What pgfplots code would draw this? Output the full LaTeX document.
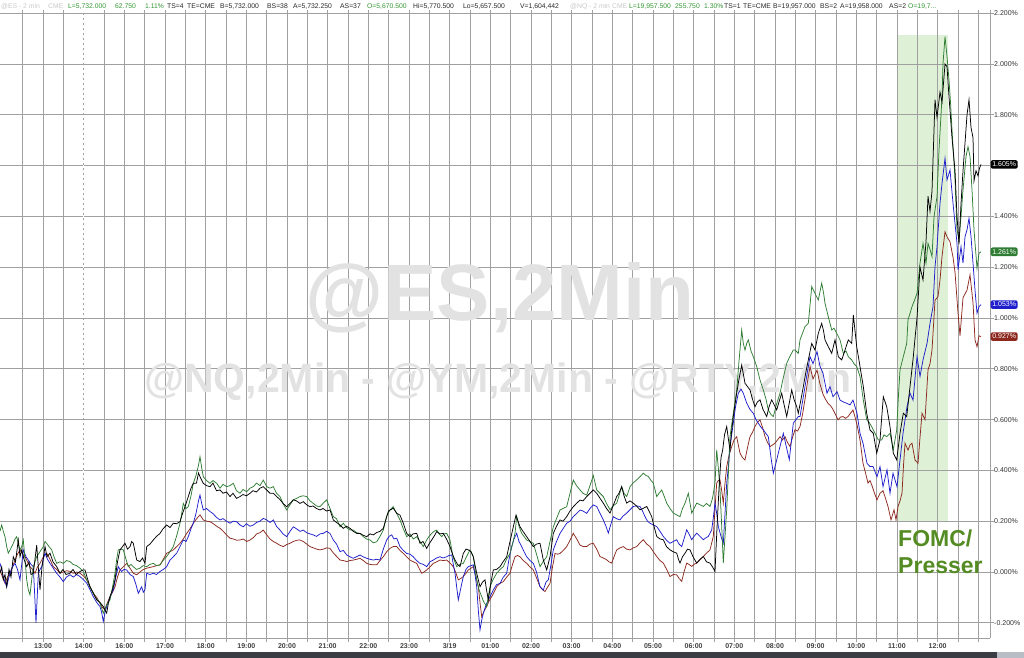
\documentclass[border=0pt]{standalone}
\usepackage{pgfplots}
\pgfplotsset{compat=1.18}
\usepackage{fontspec}
\setmainfont{Liberation Sans}
\definecolor{gridc}{RGB}{160,160,160}
\definecolor{sgreen}{RGB}{46,125,50}
\definecolor{sblue}{RGB}{30,30,205}
\definecolor{sred}{RGB}{140,40,30}
\definecolor{hgreen}{RGB}{50,150,50}
\definecolor{hgray}{RGB}{200,200,200}
\definecolor{shade}{RGB}{222,240,214}
\definecolor{fomc}{RGB}{84,139,34}
\definecolor{wm}{RGB}{226,226,226}
\definecolor{barc}{RGB}{58,62,68}
\definecolor{barl}{RGB}{185,190,198}
\begin{document}
\begin{tikzpicture}[font=\fontsize{7}{8}\selectfont]
\begin{axis}[
 set layers,
 scale only axis, width=990pt, height=628pt,
 xmin=0, xmax=990, ymin=-0.26, ymax=2.213,
 axis x line*=bottom, axis y line*=right,
 axis line style={-, gridc, line width=0.8pt},
 xtick={43.06,83.72,124.38,165.04,205.7,246.36,287.02,327.68,368.34,409,449.66,490.32,530.98,571.64,612.3,652.96,693.62,734.28,774.94,815.6,856.26,896.92,937.58},
 xticklabels={13:00,14:00,16:00,17:00,18:00,19:00,20:00,21:00,22:00,23:00,3/19,01:00,02:00,03:00,04:00,05:00,06:00,07:00,08:00,09:00,10:00,11:00,12:00},
 minor xtick={22.73,63.39,104.05,144.71,185.37,226.03,266.69,307.35,348.01,388.67,429.33,469.99,510.65,551.31,591.97,632.63,673.29,713.95,754.61,795.27,835.93,876.59,917.25,957.91,978.24},
 ytick={-0.2,0,0.2,0.4,0.6,0.8,1.0,1.2,1.4,1.6,1.8,2.0,2.2},
 yticklabels={-0.200\%,0.000\%,0.200\%,0.400\%,0.600\%,0.800\%,1.000\%,1.200\%,1.400\%,1.600\%,1.800\%,2.000\%,2.200\%},
 xmajorgrids, xminorgrids, ymajorgrids,
 grid style={gridc, line width=0.8pt},
 minor grid style={gridc, line width=0.8pt},
 tick align=outside, major tick length=4pt, minor tick length=4pt,
 tick style={gridc, line width=0.8pt},
 xticklabel style={font=\fontsize{7}{8}\selectfont\bfseries, text=black!75, inner sep=0pt, anchor=north, yshift=-1pt},
 yticklabel style={font=\fontsize{7}{8}\selectfont, text=black!80, inner sep=0pt, anchor=west, xshift=0pt},
 clip=false,
]
\coordinate (bbSW) at (rel axis cs:0,0);
% shaded FOMC window
\addplot[fill=shade, draw=none, on layer=axis background] coordinates {(898,0.2) (948,0.2) (948,2.114) (898,2.114)} -- cycle;
\draw[white, line width=0.8pt, dash pattern=on 3pt off 2pt] (axis cs:83.72,-0.26) -- (axis cs:83.72,2.213);
% watermarks
\node[text=wm, font=\fontsize{80}{80}\selectfont\bfseries] at (axis cs:500,1.08) {@ES,2Min};
\node[text=wm, font=\fontsize{41}{41}\selectfont\bfseries] at (axis cs:498,0.75) {@NQ,2Min - @YM,2Min - @RTY,2Min};

% RED
\addplot[sred, line width=0.75pt] coordinates {
(0,0.008)(2.5,-0.02)(5,-0.044)(7.5,-0.02)(10,-0.005)(12.5,0.02)(15,0.047)(17.5,0.07)(20,0.087)(22.5,0.07)(25,0.061)(27.5,0.04)(30,0.021)(32.5,0.01)(35,-0.005)(37.5,0.02)(40,0.034)(43.3,0.06)(46.7,0.074)(50,0.05)(53.3,0.021)(56.7,0.01)(60,-0.005)(63.3,0.0)(66.7,0.005)(70,0.002)(73.3,-0.005)(76.7,0.0)(80,-0.005)(83.3,-0.015)(86.7,-0.031)(90,-0.06)(93.3,-0.084)(96.7,-0.1)(100,-0.123)(102.5,-0.14)(105,-0.149)(107.5,-0.12)(110,-0.097)(112.5,-0.08)(115,-0.058)(117.5,-0.02)(120,0.008)(123.3,0.02)(126.7,0.034)(130,0.015)(133.3,-0.005)(136.7,-0.011)(140,0.0)(143.3,0.01)(146.7,0.015)(150,0.018)(153.3,0.021)(156.5,0.025)(160,0.028)(163.3,0.05)(166.7,0.074)(170,0.08)(173.3,0.087)(176.7,0.1)(180,0.113)(183.3,0.13)(186.7,0.152)(190,0.17)(193.3,0.192)(196.7,0.21)(200,0.225)(203.3,0.205)(206.7,0.2)(210,0.198)(213.3,0.19)(216.7,0.18)(220,0.172)(223.3,0.16)(226.7,0.145)(230,0.133)(233.3,0.13)(236.7,0.125)(240,0.126)(243.3,0.13)(246.7,0.12)(250,0.126)(253.3,0.135)(256.7,0.15)(260,0.155)(263.3,0.165)(266.7,0.146)(270,0.13)(273.3,0.12)(276.7,0.113)(280,0.105)(283.3,0.1)(286.7,0.108)(290,0.113)(293.3,0.12)(296.7,0.125)(300,0.126)(303.3,0.12)(306.7,0.11)(310,0.1)(313.3,0.095)(316.7,0.09)(320,0.087)(323.3,0.09)(326.7,0.095)(330,0.093)(333.3,0.075)(336.7,0.061)(340,0.047)(343.3,0.045)(346.7,0.041)(350,0.045)(353.3,0.047)(356.7,0.05)(360,0.054)(363.3,0.045)(366.7,0.034)(370,0.03)(373.3,0.028)(376.7,0.028)(380,0.045)(383.3,0.06)(386.7,0.08)(390,0.093)(393.3,0.1)(396.7,0.1)(400,0.085)(403.3,0.073)(406.7,0.06)(410,0.047)(413.3,0.04)(416.7,0.034)(419,0.015)(421.7,-0.005)(424,0.0)(426.7,0.008)(430,0.02)(433.3,0.034)(436.7,0.04)(440,0.047)(443.3,0.045)(446.7,0.047)(450,0.035)(453.3,0.021)(456,-0.005)(458.3,-0.031)(461,-0.025)(463.3,-0.018)(466,-0.005)(468.3,0.008)(471,0.015)(473.3,0.021)(476,-0.02)(478.3,-0.058)(480,-0.12)(481.7,-0.176)(484,-0.155)(486.7,-0.136)(489,-0.115)(491.7,-0.097)(494,-0.08)(496.7,-0.058)(500,-0.045)(503.3,-0.038)(506.7,-0.02)(510,-0.005)(512.5,0.03)(515,0.06)(517.5,0.065)(520,0.06)(523.3,0.045)(526.7,0.034)(530,0.02)(533.3,0.008)(536.7,-0.025)(540,-0.058)(542.5,-0.07)(545,-0.077)(547.5,-0.06)(550,-0.045)(552.5,0.02)(555,0.073)(557.5,0.07)(560,0.073)(563.3,0.085)(566.7,0.1)(570,0.125)(573.3,0.152)(576.7,0.13)(580,0.106)(583.3,0.1)(586.7,0.1)(590,0.11)(593.3,0.113)(596.7,0.09)(600,0.061)(603.3,0.055)(606.7,0.048)(609,0.04)(611.7,0.035)(614,0.06)(616.7,0.087)(620,0.095)(623.3,0.1)(626.7,0.09)(630,0.087)(633.3,0.095)(636.7,0.1)(640,0.115)(643.3,0.127)(646.7,0.11)(650,0.1)(653.3,0.08)(656.7,0.061)(660,0.045)(663.3,0.035)(666.7,0.01)(670,-0.018)(673.3,-0.01)(676.7,-0.011)(679,-0.025)(681.7,-0.037)(684,0.0)(686.7,0.035)(689,0.03)(691.7,0.022)(694,0.03)(696.7,0.035)(700,0.048)(703.3,0.061)(706.7,0.075)(710,0.087)(713.3,0.14)(715,0.25)(716.7,0.35)(718.3,0.36)(720,0.363)(721.7,0.32)(723.3,0.271)(725,0.35)(726.7,0.415)(729,0.46)(731.7,0.494)(734,0.52)(736.7,0.533)(738.3,0.5)(740,0.468)(742.5,0.45)(745,0.441)(747.5,0.49)(750,0.533)(752.5,0.55)(755,0.573)(757.5,0.59)(760,0.599)(762.5,0.57)(765,0.533)(767.5,0.51)(770,0.494)(772.5,0.5)(775,0.507)(777.5,0.52)(780,0.533)(782.5,0.52)(785,0.533)(787.5,0.51)(790,0.494)(792.5,0.53)(795,0.56)(797.5,0.555)(800,0.573)(802.5,0.62)(805,0.68)(807.5,0.75)(810,0.809)(813,0.76)(817,0.795)(820,0.74)(823,0.7)(825.5,0.68)(828,0.664)(830.5,0.655)(833,0.64)(835.5,0.62)(838,0.599)(840.5,0.61)(843,0.612)(845.5,0.605)(848,0.612)(850.5,0.625)(853,0.638)(855,0.61)(857,0.58)(860,0.52)(863,0.428)(865.5,0.39)(868,0.35)(870,0.36)(872,0.34)(874.5,0.31)(877,0.284)(880,0.31)(883,0.32)(885.5,0.29)(888,0.258)(891,0.205)(894,0.245)(896,0.205)(898,0.258)(900,0.28)(902,0.31)(903.5,0.42)(905,0.507)(908,0.48)(910,0.5)(912,0.507)(915,0.441)(918,0.428)(920,0.53)(922,0.625)(925,0.6)(928,0.796)(930,0.82)(932,0.874)(935,1.07)(938,1.084)(940,1.15)(942,1.242)(945,1.34)(947,1.32)(950,1.3)(953,1.24)(955,1.18)(958,1.02)(960,0.93)(963,1.08)(967,1.11)(970,1.17)(973,1.06)(975,0.914)(977,0.887)(979,0.93)(981,0.927)
};
% BLUE
\addplot[sblue, line width=0.75pt] coordinates {
(0,0.034)(1.7,0.01)(3.3,-0.018)(5,-0.04)(6.7,-0.058)(8.3,-0.03)(10,-0.005)(12.5,0.02)(15,0.034)(17.5,0.01)(20,-0.031)(21.7,0.03)(23.3,0.087)(26,0.06)(28.3,0.047)(31,0.03)(33.3,0.021)(34.7,-0.09)(36,-0.2)(37.2,-0.1)(38.3,-0.005)(40,0.01)(41.7,0.021)(43.3,0.05)(45,0.074)(47.5,0.05)(50,0.034)(53.3,0.015)(56.7,-0.005)(60,-0.02)(63.3,-0.038)(66.5,-0.02)(70,-0.011)(73.3,-0.02)(76.7,-0.01)(80,-0.018)(83.3,-0.03)(86.7,-0.044)(90,-0.07)(93.3,-0.097)(96.7,-0.12)(100,-0.136)(101.7,-0.16)(103.3,-0.195)(105,-0.16)(106.7,-0.136)(110,-0.1)(113.3,-0.07)(115.8,-0.02)(118.3,0.021)(120,0.01)(121.7,0.002)(124,0.01)(126.7,0.008)(130,-0.01)(133.3,-0.018)(136,-0.05)(138.3,-0.084)(141.7,-0.058)(143.3,-0.08)(145,-0.07)(146.7,-0.005)(150,-0.01)(153.3,-0.005)(156.5,-0.01)(160,0.002)(163.3,0.01)(166.7,0.021)(170,0.047)(173.3,0.06)(176.7,0.074)(180,0.1)(183.3,0.126)(186,0.12)(188.3,0.139)(191,0.17)(193.3,0.192)(196,0.23)(198.5,0.28)(200,0.303)(201.7,0.27)(203.3,0.244)(206.5,0.25)(210,0.238)(213,0.23)(216.5,0.215)(220,0.205)(223,0.21)(226.5,0.2)(230,0.192)(233.3,0.2)(236.7,0.198)(240,0.185)(243.3,0.178)(246.5,0.19)(250,0.18)(253.3,0.185)(256.5,0.195)(260,0.2)(263.3,0.211)(266.7,0.205)(270,0.195)(273.3,0.205)(276.5,0.18)(280,0.165)(283,0.15)(286.7,0.139)(290,0.16)(293.3,0.178)(296.5,0.17)(300,0.16)(303.3,0.165)(306.5,0.155)(310,0.15)(313.3,0.146)(316.5,0.14)(320,0.15)(323.3,0.152)(326.5,0.16)(330,0.152)(333.3,0.126)(336.5,0.11)(340,0.08)(343.3,0.085)(346.7,0.067)(350,0.06)(353.3,0.054)(356.5,0.06)(360,0.067)(363,0.06)(366.7,0.054)(370,0.05)(373.3,0.047)(376.5,0.05)(380,0.047)(383.3,0.09)(386.7,0.126)(389,0.14)(391.7,0.146)(394,0.13)(396.7,0.133)(400,0.1)(403.3,0.085)(406.7,0.073)(410,0.07)(413.3,0.06)(416.5,0.045)(420,0.034)(423.3,0.03)(426.7,0.021)(430,0.04)(433.3,0.047)(436.5,0.055)(440,0.06)(443,0.055)(446.7,0.06)(449,0.065)(451.7,0.067)(453.3,0.03)(455,-0.005)(456.7,-0.06)(458.3,-0.11)(461,-0.06)(463.3,-0.018)(466,0.01)(468.3,0.021)(471,0.025)(473.3,0.028)(475,-0.01)(476.7,-0.058)(478.3,-0.15)(480,-0.228)(481.7,-0.19)(483.3,-0.163)(486,-0.13)(488.3,-0.11)(491,-0.09)(493.3,-0.071)(496.5,-0.05)(500,-0.045)(503.3,-0.02)(506.7,-0.005)(509,0.05)(511.7,0.1)(514,0.13)(516.7,0.152)(519,0.12)(521.7,0.1)(524,0.08)(526.7,0.06)(530,0.045)(533.3,0.034)(536.5,0.0)(540,-0.058)(543.3,-0.071)(546,-0.04)(548.3,-0.031)(551,0.03)(553.3,0.087)(556.5,0.12)(560,0.152)(563,0.17)(566.7,0.192)(570,0.2)(573.3,0.218)(576.5,0.23)(580,0.244)(583,0.24)(586.7,0.231)(590,0.25)(593.3,0.264)(596.7,0.258)(600,0.231)(603.3,0.205)(606,0.18)(608.3,0.153)(611,0.19)(613.3,0.218)(616.5,0.21)(620,0.205)(623,0.22)(626.7,0.232)(630,0.245)(633.3,0.258)(636.5,0.26)(640,0.258)(642.5,0.24)(645,0.218)(647.5,0.2)(650,0.192)(653.3,0.185)(656.7,0.179)(660,0.16)(663.3,0.14)(666.5,0.125)(670,0.113)(673.3,0.12)(676.7,0.127)(679,0.11)(681.7,0.1)(684,0.13)(686.7,0.166)(689,0.15)(691.7,0.127)(694,0.14)(696.7,0.153)(700,0.14)(703.3,0.127)(706,0.135)(708.3,0.14)(711.7,0.166)(713.5,0.22)(715,0.271)(716.7,0.23)(718.3,0.179)(721,0.14)(723.3,0.113)(725,0.23)(726.7,0.35)(728.5,0.42)(730,0.494)(733.3,0.586)(735.5,0.65)(738.3,0.704)(741,0.72)(743.3,0.704)(746.7,0.665)(750,0.64)(753.3,0.625)(756,0.6)(758.3,0.586)(761,0.57)(763.3,0.56)(766,0.545)(768.3,0.533)(771,0.45)(773.3,0.389)(776,0.43)(778.3,0.468)(781,0.51)(783.3,0.546)(786.5,0.49)(789.3,0.442)(791.5,0.52)(793.3,0.586)(796,0.6)(798.3,0.612)(800,0.612)(802.5,0.67)(805,0.73)(807.5,0.79)(810,0.848)(813,0.82)(817,0.868)(820,0.81)(823,0.782)(827,0.704)(830,0.73)(833,0.69)(837,0.71)(840,0.677)(843,0.67)(847,0.664)(850,0.658)(853,0.677)(857,0.625)(860,0.546)(863,0.507)(867,0.428)(870,0.415)(873,0.415)(877,0.375)(880,0.415)(883,0.336)(887,0.402)(890,0.31)(893,0.389)(897,0.336)(900,0.441)(903,0.546)(907,0.651)(910,0.704)(913,0.677)(917,0.848)(920,0.77)(923,0.835)(927,0.9)(930,0.979)(933,1.045)(935,1.202)(937,1.281)(940,1.452)(942,1.53)(945,1.629)(947,1.544)(950,1.583)(953,1.452)(957,1.294)(958,1.19)(961,1.281)(963,1.216)(965,1.32)(967,1.347)(969,1.393)(971,1.32)(973,1.216)(975,1.11)(977,1.019)(979,1.045)(981,1.053)
};
% GREEN
\addplot[sgreen, line width=0.75pt] coordinates {
(0,0.16)(1.7,0.185)(3.3,0.16)(5,0.139)(6.7,0.1)(8.3,0.074)(10.5,0.09)(13.3,0.113)(15,0.13)(16.7,0.139)(18.3,0.11)(20,0.087)(21.7,0.1)(23.3,0.126)(25,0.05)(26.7,-0.031)(28.3,-0.07)(30,-0.09)(31.7,-0.03)(33.3,0.021)(35,0.04)(36.7,0.061)(40,0.08)(43.3,0.1)(45,0.12)(46.7,0.113)(49,0.1)(51.7,0.087)(54,0.06)(56.7,0.034)(60,0.04)(63.3,0.034)(66.5,0.045)(70,0.041)(73,0.03)(76.5,0.025)(80,0.015)(83.3,0.002)(86.5,-0.03)(90,-0.058)(92.5,-0.08)(95,-0.097)(97.5,-0.11)(100,-0.123)(103.3,-0.162)(106.5,-0.13)(110,-0.11)(112.5,-0.06)(115,-0.005)(116.7,0.05)(118.3,0.087)(121,0.09)(123.3,0.087)(126,0.05)(128.3,0.021)(131,0.03)(133.3,0.021)(136.5,0.01)(140,0.015)(143,0.025)(146.7,0.021)(150,0.03)(153.3,0.034)(156.5,0.025)(160,0.028)(163,0.045)(166.7,0.061)(170,0.08)(173.3,0.1)(176.5,0.14)(180,0.192)(181.7,0.23)(183.3,0.27)(186,0.25)(188.3,0.257)(191,0.3)(193.3,0.349)(196,0.38)(198.5,0.42)(200,0.454)(201.7,0.41)(203.3,0.375)(206.5,0.36)(210,0.349)(213,0.36)(216.7,0.349)(220,0.33)(223,0.345)(226.7,0.336)(230,0.34)(233.3,0.349)(236.5,0.32)(240,0.31)(243,0.325)(246.7,0.316)(250,0.33)(253.3,0.336)(256.5,0.35)(260,0.34)(263.3,0.362)(266.7,0.336)(270,0.33)(273.3,0.336)(276.5,0.31)(280,0.297)(283,0.27)(286.7,0.244)(290,0.265)(293.3,0.284)(296.5,0.29)(300,0.297)(303,0.3)(306.7,0.297)(310,0.28)(313.3,0.27)(316.5,0.26)(320,0.257)(323,0.27)(326.7,0.284)(330,0.25)(333.3,0.218)(336.5,0.21)(340,0.178)(343.3,0.192)(346.5,0.175)(350,0.165)(353.3,0.165)(356.5,0.155)(360,0.152)(363,0.14)(366.5,0.13)(370,0.126)(373.3,0.115)(376.7,0.119)(380,0.14)(383.3,0.165)(386.7,0.22)(390,0.244)(393.3,0.257)(396.7,0.23)(400,0.205)(403.3,0.17)(406.7,0.139)(410,0.15)(413.3,0.13)(416.7,0.139)(420,0.12)(423.3,0.1)(426.7,0.126)(429,0.14)(431.7,0.152)(434,0.16)(436.7,0.165)(439,0.15)(441.7,0.139)(444,0.15)(446.7,0.152)(450,0.126)(453,0.06)(456.7,0.021)(460,0.03)(463.3,0.034)(466.5,0.06)(470,0.087)(473.3,0.06)(476.7,-0.031)(479,-0.07)(481.7,-0.097)(484,-0.12)(486.7,-0.136)(490,-0.058)(493,-0.03)(496.7,-0.005)(500,0.01)(503.3,0.021)(506.5,0.05)(510,0.073)(512.5,0.11)(515,0.152)(516.7,0.218)(519,0.18)(521.7,0.152)(524,0.14)(526.7,0.126)(530,0.12)(533.3,0.113)(536.5,0.07)(540,0.021)(543,0.04)(546.7,0.06)(550,0.12)(553.3,0.178)(556.5,0.21)(560,0.244)(563,0.25)(566.7,0.257)(570,0.31)(573.3,0.362)(576.5,0.34)(580,0.323)(583,0.31)(586.7,0.303)(590,0.34)(593.3,0.38)(596.7,0.323)(600,0.31)(603.3,0.297)(606.5,0.27)(610,0.245)(613,0.26)(616.7,0.271)(619,0.3)(621.7,0.336)(624,0.31)(626.7,0.297)(630,0.336)(633,0.35)(636.7,0.363)(640,0.375)(643.3,0.389)(646,0.38)(648.3,0.376)(651,0.36)(653.3,0.35)(656.7,0.297)(659,0.31)(661.7,0.323)(664,0.3)(666.7,0.271)(670,0.25)(673.3,0.232)(676.5,0.225)(680,0.218)(682.5,0.25)(685,0.271)(688.3,0.31)(691.7,0.232)(694,0.25)(696.7,0.271)(700,0.265)(703.3,0.258)(706.5,0.27)(710,0.258)(712.5,0.29)(715,0.35)(716.7,0.481)(718.5,0.4)(720,0.323)(721.7,0.18)(723.3,0.035)(725,0.14)(726.7,0.245)(728.5,0.4)(730,0.533)(733.3,0.625)(736.7,0.717)(739,0.83)(741.7,0.953)(743.3,0.9)(745,0.874)(746.7,0.9)(748.3,0.914)(751,0.87)(753.3,0.848)(756.7,0.809)(760,0.756)(763.3,0.717)(766,0.68)(768.3,0.638)(771,0.62)(773.3,0.612)(776.5,0.66)(780,0.704)(783,0.76)(786.7,0.822)(790,0.85)(793.3,0.874)(795,0.874)(798.3,0.861)(800,0.914)(802.5,0.94)(805,0.966)(808.3,0.979)(810,1.05)(811.7,1.124)(815,1.097)(818.3,1.071)(821.7,1.137)(823.5,1.1)(825,1.058)(828.3,1.005)(831.7,0.953)(834,0.96)(836.7,0.94)(840,0.914)(843.3,0.861)(846,0.87)(848.3,0.848)(851.7,0.835)(854,0.82)(856.7,0.809)(860,0.77)(863.3,0.677)(866.7,0.599)(869,0.59)(871.7,0.572)(875,0.546)(878.3,0.52)(881.7,0.52)(884,0.54)(886.7,0.533)(890,0.546)(893.3,0.481)(896.7,0.559)(898.5,0.7)(900,0.796)(903.3,0.848)(906.7,0.9)(908,0.993)(910,1.018)(912,1.045)(914.5,1.07)(917,1.097)(920,1.216)(923,1.294)(926,1.216)(928,1.294)(930,1.27)(932,1.242)(934,1.399)(937,1.478)(939,1.662)(941,1.8)(942,1.872)(943,2.003)(945,2.108)(947,2.03)(949,1.937)(950.5,1.85)(952,1.74)(955,1.544)(957,1.347)(959,1.307)(961,1.399)(963,1.504)(966,1.636)(968,1.675)(970,1.636)(972,1.504)(974,1.347)(977,1.196)(979,1.255)(981,1.261)
};
% BLACK
\addplot[black, line width=0.75pt] coordinates {
(0,-0.005)(1.7,0.02)(3.3,-0.031)(5,-0.01)(6.7,-0.058)(9,0.01)(11,-0.02)(13.3,0.06)(15.5,0.04)(18.3,0.126)(20,0.06)(21.7,0.087)(24,0.05)(26.7,0.021)(29,0.04)(31,-0.01)(33.3,-0.005)(35,0.05)(36.7,0.106)(38.3,0.02)(40,-0.07)(42,0.02)(45,0.1)(47,0.06)(50,0.074)(53,0.04)(56.7,0.021)(60,-0.005)(63,0.01)(66,-0.01)(70,-0.005)(73,0.01)(76,-0.01)(80,0.002)(83,0.008)(85,0.008)(87,-0.02)(90,-0.058)(93,-0.08)(96.7,-0.11)(100,-0.12)(103.3,-0.136)(105,-0.15)(106.7,-0.162)(108.5,-0.12)(110,-0.097)(112.5,-0.07)(115,-0.031)(117.5,0.04)(120,0.087)(122.5,0.1)(125,0.113)(127.5,0.09)(130,0.1)(131.7,0.12)(133.3,0.113)(135,0.08)(136.7,0.047)(140,0.041)(142.5,0.055)(145,0.034)(146.7,0.1)(150,0.11)(153.3,0.126)(156.5,0.14)(160,0.152)(163,0.17)(166.7,0.185)(170,0.175)(173.3,0.192)(176.5,0.19)(180,0.198)(182.5,0.23)(185,0.257)(188.3,0.297)(191,0.33)(193.3,0.349)(196.5,0.35)(198.5,0.39)(200,0.375)(203.3,0.349)(206.5,0.34)(210,0.336)(213,0.35)(216.5,0.32)(220,0.323)(223,0.31)(226.5,0.315)(230,0.297)(233,0.31)(236.5,0.29)(240,0.297)(243,0.305)(246.5,0.3)(250,0.31)(253,0.32)(256.5,0.315)(260,0.33)(263.3,0.336)(266.7,0.323)(270,0.31)(273.3,0.31)(276.7,0.297)(280,0.285)(283,0.27)(286.7,0.257)(290,0.27)(293.3,0.284)(296.5,0.28)(300,0.27)(303.3,0.277)(306.5,0.265)(310,0.257)(313,0.26)(316.5,0.25)(320,0.244)(323,0.25)(326.5,0.24)(330,0.244)(333.3,0.205)(336.5,0.195)(340,0.185)(343.3,0.172)(346.5,0.18)(350,0.172)(353.3,0.16)(356.7,0.152)(360,0.152)(363,0.145)(366.7,0.139)(370,0.15)(373.3,0.146)(376.5,0.155)(380,0.16)(383.3,0.172)(386.7,0.218)(388.5,0.24)(390,0.244)(393.3,0.251)(396.7,0.231)(400,0.224)(403.3,0.192)(406.7,0.152)(410,0.139)(413,0.15)(416.7,0.152)(420,0.113)(423,0.12)(426.7,0.093)(429,0.11)(431.7,0.126)(434,0.14)(436.7,0.159)(440,0.15)(443.3,0.152)(446.5,0.13)(450,0.1)(452.5,0.07)(455,0.047)(457.5,0.03)(460,0.021)(463.3,0.073)(466,0.09)(468.3,0.087)(471,0.08)(473.3,0.06)(476.7,-0.005)(480,-0.058)(482.5,-0.04)(485,-0.031)(486.5,-0.07)(488.3,-0.11)(491,-0.04)(493.3,0.008)(496.5,0.01)(500,0.021)(503,0.04)(506.7,0.06)(510,0.12)(513.3,0.178)(516,0.224)(518,0.2)(520,0.178)(523,0.16)(526.7,0.139)(530,0.12)(533.3,0.1)(536.5,0.11)(540,0.113)(543.3,0.047)(546.7,0.008)(550,0.06)(553.3,0.152)(556.5,0.18)(560,0.205)(563,0.2)(566.7,0.218)(570,0.24)(573.3,0.257)(576.5,0.27)(580,0.283)(583,0.28)(586.7,0.297)(590,0.31)(593.3,0.323)(596.7,0.31)(600,0.29)(603.3,0.271)(606.5,0.25)(610,0.232)(613,0.26)(616.7,0.297)(619,0.31)(621.7,0.336)(624,0.3)(626.7,0.271)(630,0.28)(633.3,0.271)(636.5,0.26)(640,0.245)(643,0.25)(646.7,0.258)(649,0.24)(651.7,0.218)(654,0.18)(656.7,0.14)(660,0.13)(663.3,0.127)(666.5,0.1)(670,0.087)(673,0.08)(676.7,0.074)(678.5,0.05)(680,0.035)(682.5,0.06)(685,0.074)(687.5,0.09)(690,0.087)(693,0.06)(696.7,0.035)(700,0.05)(703.3,0.061)(706.5,0.04)(710,0.035)(712.5,0.02)(715,0.002)(717.3,0.2)(719.3,0.35)(721,0.45)(722.7,0.481)(724.5,0.54)(726.7,0.573)(728.5,0.52)(730,0.481)(731.5,0.55)(733.3,0.612)(735,0.66)(736.7,0.704)(739,0.76)(741.7,0.815)(743.3,0.78)(745,0.743)(747.5,0.73)(750,0.717)(752.5,0.68)(755,0.651)(757.5,0.67)(760,0.678)(763,0.64)(766.7,0.612)(769,0.65)(771.7,0.678)(774,0.66)(776.7,0.638)(779,0.67)(781.7,0.704)(784,0.66)(786.7,0.612)(789,0.66)(791.7,0.717)(794,0.68)(796.7,0.651)(798.3,0.625)(801,0.68)(803.3,0.73)(806,0.79)(808.3,0.835)(811.7,0.9)(815,0.874)(818.3,0.94)(821.7,0.979)(823.5,0.95)(825,0.914)(828.3,0.887)(831.7,0.861)(835,0.914)(838.3,0.848)(841.7,0.835)(845,0.874)(848.3,0.914)(851.7,0.9)(853.3,1.012)(855,0.95)(856.7,0.887)(860,0.809)(863.3,0.73)(866.7,0.625)(870,0.559)(873.3,0.546)(876.7,0.468)(880,0.52)(883.3,0.69)(886.7,0.651)(890,0.572)(893.3,0.468)(896.7,0.441)(900,0.546)(903.3,0.625)(906.7,0.612)(910,0.73)(913.3,0.848)(915,0.92)(917,1.0)(920,1.2)(923,1.15)(926,1.3)(928,1.48)(930,1.42)(932,1.5)(935,1.86)(937,1.79)(940,1.89)(942,1.85)(945,2.0)(947,1.99)(949,1.87)(952,1.71)(955,1.58)(957,1.4)(959,1.29)(961,1.45)(963,1.58)(965,1.69)(967,1.8)(969,1.86)(971,1.75)(973,1.71)(974,1.54)(976,1.58)(978,1.56)(979.5,1.59)(981,1.605)
};

% FOMC annotation
\node[anchor=north west, text=fomc, font=\fontsize{23}{27}\selectfont\bfseries, align=left, inner sep=0pt] at (axis cs:898,0.165) {FOMC/\\Presser};

% last-value boxes
\tikzset{vbox/.style={anchor=west, text=white, inner xsep=1.6pt, inner ysep=1.8pt, rounded corners=2pt, font=\fontsize{7}{7}\selectfont}}
\node[vbox, fill=black] at (axis cs:990.5,1.605) {1.605\%};
\node[vbox, fill=sgreen] at (axis cs:990.5,1.261) {1.261\%};
\node[vbox, fill=sblue] at (axis cs:990.5,1.053) {1.053\%};
\node[vbox, fill=sred] at (axis cs:990.5,0.927) {0.927\%};

% bottom bar
\fill[barc] (axis cs:0,-0.315) rectangle (axis cs:997,-0.345);
\fill[barl] (axis cs:997,-0.315) rectangle (axis cs:1030,-0.345);

% header
\tikzset{hd/.style={anchor=base west, inner sep=0pt, font=\fontsize{6.8}{8}\selectfont}}
\def\hy{2.2185}
\node[hd, text=hgray] at (axis cs:1,\hy) {@ES - 2 min};
\node[hd, text=hgray] at (axis cs:48,\hy) {CME};
\node[hd, text=hgreen] at (axis cs:68,\hy) {L=5,732.000};
\node[hd, text=hgreen] at (axis cs:115,\hy) {62.750};
\node[hd, text=hgreen] at (axis cs:145,\hy) {1.11\%};
\node[hd, text=black!85] at (axis cs:167,\hy) {TS=4};
\node[hd, text=black!85] at (axis cs:187,\hy) {TE=CME};
\node[hd, text=black!85] at (axis cs:220,\hy) {B=5,732.000};
\node[hd, text=black!85] at (axis cs:267,\hy) {BS=38};
\node[hd, text=black!85] at (axis cs:293,\hy) {A=5,732.250};
\node[hd, text=black!85] at (axis cs:340,\hy) {AS=37};
\node[hd, text=hgreen] at (axis cs:367,\hy) {O=5,670.500};
\node[hd, text=black!85] at (axis cs:413,\hy) {Hi=5,770.500};
\node[hd, text=black!85] at (axis cs:463,\hy) {Lo=5,657.500};
\node[hd, text=black!85] at (axis cs:520,\hy) {V=1,604,442};
\node[hd, text=hgray] at (axis cs:570,\hy) {@NQ - 2 min};
\node[hd, text=hgray] at (axis cs:612,\hy) {CME};
\node[hd, text=hgreen] at (axis cs:629,\hy) {L=19,957.500};
\node[hd, text=hgreen] at (axis cs:675,\hy) {255.750};
\node[hd, text=hgreen] at (axis cs:704,\hy) {1.30\%};
\node[hd, text=black!85] at (axis cs:724,\hy) {TS=1};
\node[hd, text=black!85] at (axis cs:743,\hy) {TE=CME};
\node[hd, text=black!85] at (axis cs:773,\hy) {B=19,957.000};
\node[hd, text=black!85] at (axis cs:820,\hy) {BS=2};
\node[hd, text=black!85] at (axis cs:840,\hy) {A=19,958.000};
\node[hd, text=black!85] at (axis cs:889,\hy) {AS=2};
\node[hd, text=hgreen] at (axis cs:908,\hy) {O=19,7...};
\end{axis}
\pgfresetboundingbox
\path[use as bounding box] (bbSW) ++(0pt,-19pt) rectangle ++(1024pt,657pt);
\end{tikzpicture}
\end{document}
